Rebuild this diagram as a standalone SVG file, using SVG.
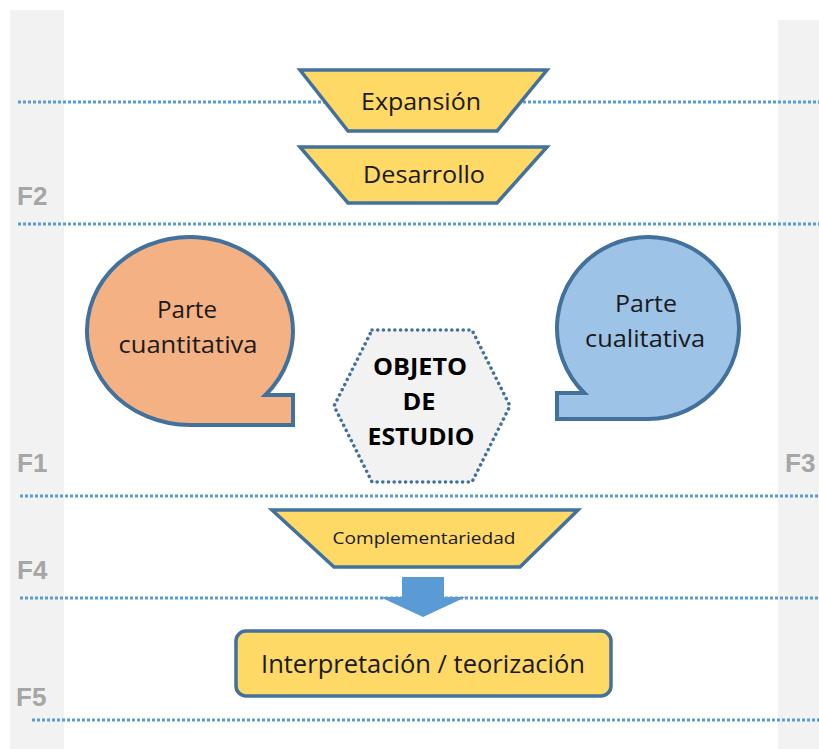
<svg xmlns="http://www.w3.org/2000/svg" width="819" height="749" viewBox="0 0 819 749">
<style>
.band{fill:#f2f2f2}
.flab{font-family:"Liberation Sans",Arial,sans-serif;font-weight:bold;font-size:26px;fill:#a6a6a6}
.dot{stroke:#5b9bd5;stroke-width:3;stroke-dasharray:3 2;fill:none}
.trap{fill:#ffd966;stroke:#41719c;stroke-width:3.5;stroke-linejoin:miter}
.t{font-family:"Open Sans","Noto Sans",sans-serif;fill:#1a1a1a;text-anchor:middle}
.b{font-family:"Open Sans","Noto Sans",sans-serif;font-weight:bold;fill:#000;text-anchor:middle}
</style>
<rect width="819" height="749" fill="#ffffff"/>
<g id="bands">
<rect class="band" x="10" y="10" width="54" height="739"/>
<rect class="band" x="778" y="20" width="41" height="729"/>
</g>
<g id="phase-labels">
<text class="flab" x="17" y="205">F2</text>
<text class="flab" x="17" y="472">F1</text>
<text class="flab" x="785" y="472">F3</text>
<text class="flab" x="17" y="579">F4</text>
<text class="flab" x="16" y="706">F5</text>
</g>
<g id="dividers">
<line class="dot" x1="18" y1="102" x2="819" y2="102"/>
<line class="dot" x1="18" y1="224" x2="819" y2="224"/>
<line class="dot" x1="20" y1="496" x2="819" y2="496"/>
<line class="dot" x1="20" y1="598" x2="819" y2="598"/>
<line class="dot" x1="32" y1="720" x2="819" y2="720"/>
</g>
<g id="expansion">
<polygon class="trap" points="300,70 547,70 497,131 348,131"/>
<text class="t" x="421" y="110" font-size="24" textLength="120" lengthAdjust="spacingAndGlyphs">Expansión</text>
</g>
<g id="desarrollo">
<polygon class="trap" points="300,147 547,147 497,203 348,203"/>
<text class="t" x="424" y="183" font-size="24" textLength="122" lengthAdjust="spacingAndGlyphs">Desarrollo</text>
</g>
<g id="parte-cuantitativa">
<path d="M190,425 A103,94 0 1 1 265.4,395 L293,395 L293,425 Z" fill="#f4b183" stroke="#41719c" stroke-width="4" stroke-linejoin="miter"/>
<text class="t" x="187" y="318" font-size="23" textLength="60" lengthAdjust="spacingAndGlyphs">Parte</text>
<text class="t" x="188" y="353" font-size="23" textLength="139" lengthAdjust="spacingAndGlyphs">cuantitativa</text>
</g>
<g id="parte-cualitativa">
<path d="M648,419 A91,91 0 1 0 584.3,393 L557,393 L557,419 Z" fill="#9dc3e6" stroke="#41719c" stroke-width="4" stroke-linejoin="miter"/>
<text class="t" x="646" y="312" font-size="23" textLength="62" lengthAdjust="spacingAndGlyphs">Parte</text>
<text class="t" x="645" y="347" font-size="23" textLength="120" lengthAdjust="spacingAndGlyphs">cualitativa</text>
</g>
<g id="objeto-estudio">
<polygon points="372,330 472,330 510,406 472,482 372,482 334,406" fill="#f2f2f2" stroke="#41719c" stroke-width="3.5" stroke-dasharray="0.1 5.6" stroke-linecap="round"/>
<text class="b" x="420" y="375" font-size="23" textLength="94" lengthAdjust="spacingAndGlyphs">OBJETO</text>
<text class="b" x="419" y="410" font-size="23" textLength="33" lengthAdjust="spacingAndGlyphs">DE</text>
<text class="b" x="421" y="445" font-size="23" textLength="107" lengthAdjust="spacingAndGlyphs">ESTUDIO</text>
</g>
<g id="complementariedad">
<polygon class="trap" points="272,510 578,510 520,567 334,567"/>
<text class="t" x="424" y="544" font-size="17" textLength="183" lengthAdjust="spacingAndGlyphs">Complementariedad</text>
</g>
<g id="interpretacion">
<rect x="236" y="631" width="375" height="65" rx="10" ry="10" fill="#ffd966" stroke="#41719c" stroke-width="3.5"/>
<text class="t" x="423" y="673" font-size="26" textLength="324" lengthAdjust="spacingAndGlyphs">Interpretación / teorización</text>
</g>
<g id="connectors">
<polygon points="402,577 444,577 444,597 466,597 423,617 380,597 402,597" fill="#5b9bd5"/>
</g>
</svg>
